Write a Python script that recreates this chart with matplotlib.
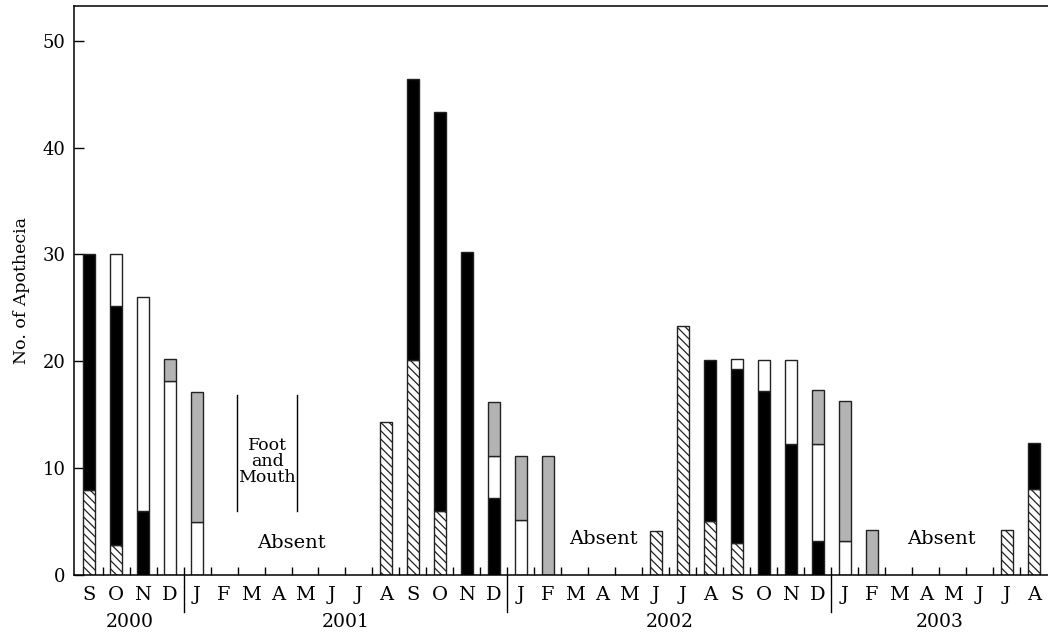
import matplotlib
matplotlib.use("Agg")
import matplotlib.pyplot as plt
import numpy as np

months = ["S", "O", "N", "D",
          "J", "F", "M", "A", "M", "J", "J", "A", "S", "O", "N", "D",
          "J", "F", "M", "A", "M", "J", "J", "A", "S", "O", "N", "D",
          "J", "F", "M", "A", "M", "J", "J", "A"]
years = ["2000", "2001", "2002", "2003"]
year_spans = [(0, 3), (4, 15), (16, 27), (28, 35)]

# segment heights, stacked bottom to top: hatched, black, white, grey
hatched = [7.9, 2.8, 0, 0,
           0, 0, 0, 0, 0, 0, 0, 14.3, 20.1, 6.0, 0, 0,
           0, 0, 0, 0, 0, 4.1, 23.3, 5.0, 3.0, 0, 0, 0,
           0, 0, 0, 0, 0, 0, 4.15, 8.0]
black = [22.1, 22.4, 6.0, 0,
         0, 0, 0, 0, 0, 0, 0, 0, 26.3, 37.3, 30.2, 7.2,
         0, 0, 0, 0, 0, 0, 0, 15.1, 16.3, 17.2, 12.2, 3.15,
         0, 0, 0, 0, 0, 0, 0, 4.3]
white = [0, 4.8, 20.0, 18.1,
         4.9, 0, 0, 0, 0, 0, 0, 0, 0, 0, 0, 3.9,
         5.15, 0, 0, 0, 0, 0, 0, 0, 0.9, 2.9, 7.9, 9.1,
         3.15, 0, 0, 0, 0, 0, 0, 0]
grey = [0, 0, 0, 2.1,
        12.2, 0, 0, 0, 0, 0, 0, 0, 0, 0, 0, 5.1,
        6.0, 11.15, 0, 0, 0, 0, 0, 0, 0, 0, 0, 5.0,
        13.1, 4.2, 0, 0, 0, 0, 0, 0]

plt.rcParams['font.family'] = ['DejaVu Serif']
plt.rcParams['hatch.linewidth'] = 0.9

fig = plt.figure(figsize=(10.48, 6.34), dpi=100)
ax = fig.add_axes([74/1048, 1 - 574.7/634, 1 - 74/1048, (574.7 - 6)/634])

x = np.arange(len(months))
w = 0.44
bottom = np.zeros(len(months))
layers = [(hatched, dict(facecolor='white', hatch='\\\\\\\\')),
          (black, dict(facecolor='black')),
          (white, dict(facecolor='white')),
          (grey, dict(facecolor='#b3b3b3'))]
for vals, style in layers:
    v = np.array(vals, dtype=float)
    m = v > 0
    ax.bar(x[m], v[m], w, bottom=bottom[m], edgecolor='#222222',
           linewidth=1.0, zorder=2, **style)
    bottom += v

ax.set_xlim(-0.556, 35.52)
ax.set_ylim(0, 53.25)
ax.spines['right'].set_visible(False)
for s in ['left', 'bottom', 'top']:
    ax.spines[s].set_linewidth(1.1)

ax.set_yticks([0, 10, 20, 30, 40, 50])
ax.tick_params(axis='y', direction='in', length=7, width=1.0, labelsize=13, pad=6)
ax.set_xticks(x)
ax.set_xticklabels(months)
ax.tick_params(axis='x', which='major', length=0, labelsize=14, pad=8)
minor = [i + 0.5 for i in range(35)]
ax.set_xticks(minor, minor=True)
ax.tick_params(axis='x', which='minor', direction='in', length=6, width=1.0)

trans = ax.get_xaxis_transform()
for (a, b), yr in zip(year_spans, years):
    ax.text((a + b) / 2, -0.083, yr, transform=trans, ha='center', va='center', fontsize=13.5)
for bnd in [3.5, 15.5, 27.5]:
    ax.plot([bnd, bnd], [0.0, -0.0656], transform=trans, color='black', lw=1.0, clip_on=False)

ax.set_ylabel("No. of Apothecia", fontsize=12.5, labelpad=9)

# Foot and Mouth annotation
ax.plot([5.48, 5.48], [6.0, 16.8], color='black', lw=1.0)
ax.plot([7.71, 7.71], [6.0, 16.8], color='black', lw=1.0)
ax.text(6.6, 10.6, "Foot\nand\nMouth", ha='center', va='center', fontsize=12.5, linespacing=0.95)
ax.text(7.5, 2.95, "Absent", ha='center', va='center', fontsize=14)
ax.text(19.05, 3.3, "Absent", ha='center', va='center', fontsize=14)
ax.text(31.56, 3.3, "Absent", ha='center', va='center', fontsize=14)

fig.savefig("out.png", dpi=100)
